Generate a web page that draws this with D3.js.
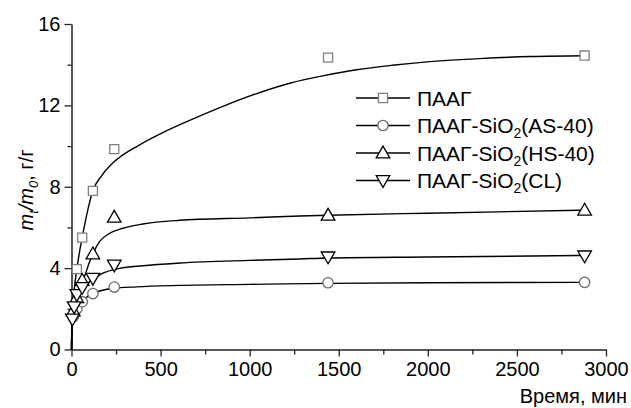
<!DOCTYPE html>
<html>
<head>
<meta charset="utf-8">
<script src="https://cdn.jsdelivr.net/npm/d3@7"></script>
<style>
	body { margin: 0; background: #fff; }
	text { font-family: Arial, "Liberation Sans", sans-serif; }
</style>
</head>
<body>
<script>
// measured points (time, min -> m_t/m_0)
let paagT = 	[30, 60, 120, 240, 1440, 2880]
let paagV = 	[3.95, 5.5, 7.8, 9.85, 14.35, 14.45]
let asT = 		[10, 30, 60, 120, 240, 1440, 2880]
let asV = 		[1.6, 2.0, 2.35, 2.75, 3.07, 3.28, 3.3]
let hsT = 		[10, 30, 60, 120, 240, 1440, 2880]
let hsV = 		[1.9, 2.55, 3.4, 4.7, 6.5, 6.6, 6.85]
let clT = 		[5, 15, 30, 60, 120, 240, 1440, 2880]
let clV = 		[1.5, 2.1, 2.7, 3.05, 3.5, 4.15, 4.55, 4.6]

// fitted curves
let paagFitT = 	[0, 1, 3, 6, 10, 15, 20, 30, 45, 60, 90, 120, 170, 230, 380, 510, 660, 850, 1040, 1230, 1410, 1600, 1800, 2010, 2290, 2580, 2880]
let paagFitV = 	[0, 0.7, 1.3, 1.9, 2.4, 2.9, 3.3, 3.95, 4.8, 5.5, 6.8, 7.8, 8.55, 9.15, 10.05, 10.65, 11.25, 11.95, 12.58, 13.1, 13.45, 13.75, 13.97, 14.15, 14.3, 14.4, 14.44]
let hsFitT = 	[0, 1, 3, 6, 10, 20, 30, 45, 60, 73, 101, 120, 157, 214, 289, 400, 607, 1000, 1282, 1440, 2000, 2880]
let hsFitV = 	[0, 0.7, 1.1, 1.5, 1.8, 2.3, 2.6, 3.1, 3.35, 3.6, 4.3, 4.7, 5.3, 5.71, 5.96, 6.17, 6.35, 6.47, 6.56, 6.6, 6.7, 6.85]
let clFitT = 	[0, 1, 3, 6, 10, 20, 30, 45, 60, 101, 120, 176, 270, 400, 607, 1000, 1282, 1440, 2000, 2880]
let clFitV = 	[0, 0.6, 1.0, 1.4, 1.7, 2.2, 2.5, 2.8, 3.0, 3.33, 3.45, 3.75, 3.99, 4.12, 4.25, 4.38, 4.45, 4.5, 4.55, 4.62]
let asFitT = 	[0, 1, 3, 6, 10, 20, 30, 45, 60, 90, 120, 150, 232, 364, 607, 1000, 1440, 2000, 2880]
let asFitV = 	[0, 0.6, 1.0, 1.3, 1.55, 1.9, 2.1, 2.3, 2.4, 2.6, 2.73, 2.85, 3.0, 3.08, 3.15, 3.2, 3.25, 3.28, 3.3]

let xTicks = 	[0, 500, 1000, 1500, 2000, 2500, 3000]
let yTicks = 	[0, 4, 8, 12, 16]

let W = 631, H = 408

let svg = d3.select('body').append('svg').attr('width', W).attr('height', H)

let x = d3.scaleLinear().domain([0, 3000]).range([71.5, 606])
let y = d3.scaleLinear().domain([0, 16]).range([349.5, 24])

let axisColor = '#222'

// axes
let xAxis = svg.append('g').attr('transform', 'translate(0, 349.5)')
	.call(d3.axisBottom(x).tickValues(xTicks).tickSize(7).tickSizeOuter(0).tickPadding(5).tickFormat(d3.format('d')))
let xMinor = svg.append('g').attr('transform', 'translate(0, 349.5)')
	.call(d3.axisBottom(x).tickValues(d3.range(250, 3000, 500)).tickSize(5).tickFormat(''))
let yAxis = svg.append('g').attr('transform', 'translate(71.5, 0)')
	.call(d3.axisLeft(y).tickValues(yTicks).tickSize(7).tickSizeOuter(0).tickPadding(4).tickFormat(d3.format('d')))
let yMinor = svg.append('g').attr('transform', 'translate(71.5, 0)')
	.call(d3.axisLeft(y).tickValues([2, 6, 10, 14]).tickSize(4).tickFormat(''))

svg.selectAll('.domain').attr('stroke', axisColor).attr('stroke-width', 1.5)
xMinor.select('.domain').remove()
yMinor.select('.domain').remove()
svg.selectAll('.tick line').attr('stroke', axisColor).attr('stroke-width', 1.3)
svg.selectAll('.tick text').attr('font-size', 20).attr('fill', '#000')
	.style('font-family', 'Arial, "Liberation Sans", sans-serif')

// axis titles
svg.append('text').attr('x', 627).attr('y', 403)
	.attr('text-anchor', 'end').attr('font-size', 20).text('Время, мин')

let yl = svg.append('text').attr('transform', 'translate(33, 190) rotate(-90)')
	.attr('text-anchor', 'middle').attr('font-size', 20)
yl.append('tspan').attr('font-style', 'italic').text('m')
yl.append('tspan').attr('font-style', 'italic').attr('font-size', 13).attr('dy', 5).text('t')
yl.append('tspan').attr('font-style', 'italic').attr('dy', -5).text('/m')
yl.append('tspan').attr('font-style', 'italic').attr('font-size', 13).attr('dy', 5).text('0')
yl.append('tspan').attr('dy', -5).text(', г/г')

// curves
let line = d3.line().x(d => x(d[0])).y(d => y(d[1])).curve(d3.curveMonotoneX)
let fits = [
	[paagFitT, paagFitV],
	[asFitT, asFitV],
	[hsFitT, hsFitV],
	[clFitT, clFitV]
]
fits.forEach(f => {
	svg.append('path')
		.attr('d', line(d3.zip(f[0], f[1])))
		.attr('fill', 'none').attr('stroke', '#000').attr('stroke-width', 1.4)
})

// markers
let sym = {
	square: 	d3.symbol().type(d3.symbolSquare).size(82),
	circle: 	d3.symbol().type(d3.symbolCircle).size(85),
	up: 		d3.symbol().type(d3.symbolTriangle).size(80),
	down: 		d3.symbol().type(d3.symbolTriangle).size(80)
}
let series = [
	{name: 'ПААГ', 				t: paagT, 	v: paagV, 	shape: 'square', 	stroke: '#808080', 	sub: null},
	{name: 'ПААГ-SiO', 			t: asT, 	v: asV, 	shape: 'circle', 	stroke: '#6a6a6a', 	sub: '(AS-40)'},
	{name: 'ПААГ-SiO', 			t: hsT, 	v: hsV, 	shape: 'up', 		stroke: '#000', 	sub: '(HS-40)'},
	{name: 'ПААГ-SiO', 			t: clT, 	v: clV, 	shape: 'down', 		stroke: '#000', 	sub: '(CL)'}
]

let drawMarker = function(g, s, cx, cy) {
	let rot = s.shape == 'down' ? ' rotate(180)' : ''
	let dy = s.shape == 'up' ? 1 : (s.shape == 'down' ? -1 : 0)
	g.append('path')
		.attr('d', sym[s.shape]())
		.attr('transform', `translate(${cx}, ${cy + dy})${rot}`)
		.attr('fill', '#fff').attr('stroke', s.stroke).attr('stroke-width', 1.3)
}

series.forEach(s => {
	let g = svg.append('g')
	s.t.forEach((t, i) => drawMarker(g, s, x(t), y(s.v[i])))
})

// legend
let legRows = [98, 125.5, 153, 180.5]
series.forEach((s, i) => {
	let ly = legRows[i]
	let g = svg.append('g')
	g.append('line').attr('x1', 356).attr('x2', 410).attr('y1', ly).attr('y2', ly)
		.attr('stroke', '#000').attr('stroke-width', 1.4)
	drawMarker(g, s, 383, ly)
	let t = g.append('text').attr('x', 417).attr('y', ly + 7.5).attr('font-size', 21)
	t.append('tspan').text(s.name)
	if (s.sub) {
		t.append('tspan').attr('font-size', 14).attr('dy', 5).text('2')
		t.append('tspan').attr('dy', -5).text(s.sub)
	}
})
</script>
</body>
</html>
